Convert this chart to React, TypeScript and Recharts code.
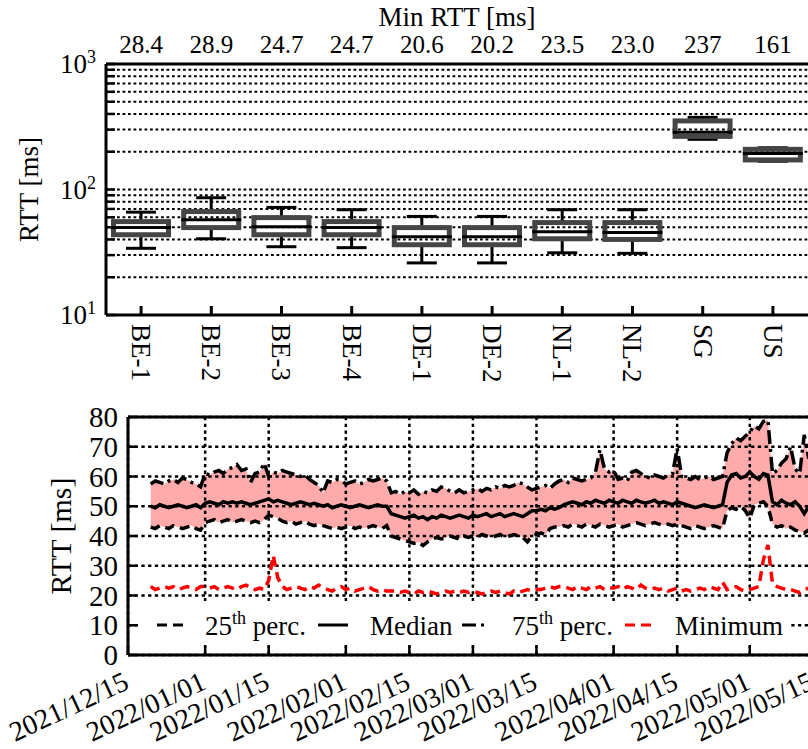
import React from "react";
import {
  ComposedChart,
  Bar,
  Scatter,
  Area,
  Line,
  XAxis,
  YAxis,
  CartesianGrid,
  ReferenceLine,
  Label,
} from "recharts";

const FONT = "'Liberation Serif', 'Times New Roman', serif";

// ---- top panel: RTT distribution per vantage point (log scale) ----
const sites = ["BE-1", "BE-2", "BE-3", "BE-4", "DE-1", "DE-2", "NL-1", "NL-2", "SG", "US"];
const minRttLabels = ["28.4", "28.9", "24.7", "24.7", "20.6", "20.2", "23.5", "23.0", "237", "161"];
const whiskerLow = [34, 40.5, 35, 34.4, 26, 26, 31.3, 31, 251, 168];
const quartile1 = [43.6, 49.7, 43.6, 43.6, 36.3, 36.3, 40.5, 40, 265, 172];
const medians = [49.7, 57.5, 50.6, 49.7, 42, 42, 46, 45.5, 286, 194];
const quartile3 = [55.5, 66.7, 59.7, 55.5, 49.7, 49.7, 54.5, 54.5, 352, 209];
const whiskerHigh = [66, 86, 72, 69, 61, 61, 69, 69, 376, 215];
const logTicks = [10, 20, 30, 40, 50, 60, 70, 80, 90, 100, 200, 300, 400, 500, 600, 700, 800, 900, 1000];
const decadeTicks = [10, 100, 1000];
const decadeExponents = ["1", "2", "3"];

// ---- bottom panel: daily RTT percentiles, 2021/12/20 onwards ----
const seriesStart = "2021/12/20";
const axisStart = "2021/12/15";
const axisEnd = "2022/05/20";
const dateTicks = [
  "2021/12/15", "2022/01/01", "2022/01/15", "2022/02/01", "2022/02/15", "2022/03/01",
  "2022/03/15", "2022/04/01", "2022/04/15", "2022/05/01", "2022/05/15",
];
const rttTicks = [0, 10, 20, 30, 40, 50, 60, 70, 80];

const perc75 = [
  57.5, 58.5, 58, 57.5, 58.5, 59, 58, 59.5, 59, 58,
  57.5, 56.5, 61, 60.5, 61.5, 62, 61, 62.5, 63, 64,
  62, 62.5, 58, 61, 61.5, 64.5, 60, 61.5, 61, 62,
  61.5, 61, 60.5, 60, 60.5, 59, 58, 57, 54.5, 58.5,
  58, 59, 58.5, 57.5, 58, 58.5, 57.5, 58, 59, 58.5,
  59, 59.5, 58.5, 54.5, 55, 54, 55, 54.5, 55.5, 54,
  55, 54.5, 55.5, 55, 56.5, 56, 55, 54.5, 55.5, 54.5,
  55, 55.5, 56, 55, 56, 55.5, 56.5, 56, 57, 56.5,
  57, 58, 57.5, 56.5, 55.5, 56, 56.5, 57, 56, 57.5,
  58.5, 59, 58, 59.5, 59, 58.5, 59, 59.5, 61.5, 69,
  62.5, 61.5, 62, 59, 59.5, 58.5, 61.5, 62, 61, 60,
  59.5, 60.5, 60, 59.5, 60.5, 61, 69.5, 60, 59.5, 59,
  60, 59, 59.5, 60, 59, 59.5, 60, 68, 71, 73,
  72, 73.5, 75, 77, 76, 78.5, 79, 61, 62, 64.5,
  66, 70, 62.5, 61, 74, 66,
];

const median = [
  50, 49.5, 50.5, 50, 49.5, 50, 50.5, 50, 49.5, 50, 50.5, 49.5,
  51, 51.5, 51, 50.5, 51.5, 51, 51.5, 51, 51.5, 51, 50.5, 51, 51.5,
  52, 52.5, 51.5, 52,
  51.5, 51, 50.5, 51, 51.5, 51, 50.5, 51, 50.5,
  50, 50.5, 49.5, 50, 50.5, 50, 49.5, 50, 50.5, 50, 49.5, 50, 50.5, 50, 50,
  47.5,
  47, 46.5, 46, 46.5, 47, 46, 46.5, 45.5, 46.5, 46, 47, 46.5, 46, 46.5, 47, 46.5, 46,
  47, 46.5, 47, 47.5, 46.5, 47, 47.5, 46.5, 47, 47.5, 47, 46.5, 47.5,
  48.5, 48.5,
  49, 48.5, 49.5, 49, 49.5,
  50.5, 51, 51.5, 51, 50.5, 51.5, 51, 52, 51.5, 51, 52,
  51.5, 51, 52, 51.5, 51, 52, 51.5, 51, 51.5, 52,
  51, 51.5, 51, 50.5, 51.5, 51,
  50.5, 50, 49.5, 50, 50.5, 50, 49.5, 50, 50.5,
  58,
  60.5, 61, 59.5, 60, 61.5, 60, 59, 61, 60.5,
  51.5, 50.5, 52, 51, 50.5, 51.5, 50,
  47.5, 50,
];

const perc25 = [
  43, 42.5, 43.5, 43, 42.5, 43.5, 43, 42.5, 43, 43.5, 42.5, 42,
  44.5, 45, 45.5, 44.5, 45, 45.5, 44.5, 45, 45.5, 45, 44.5, 45, 44.5,
  45.5, 47, 46.5, 46,
  45, 44.5, 45, 44, 44.5, 45, 44, 43.5, 44,
  43.5, 43, 42.5, 43, 42.5, 43, 43.5, 42.5, 43, 42.5, 43, 43.5, 43, 42.5, 43.5,
  40,
  39.5, 39, 38.5, 38, 37.5, 38, 36.8, 38, 39, 39.5, 39, 39.5, 40, 39.5, 39, 40, 39.5,
  40, 39.5, 40.5, 40, 39.5, 40, 40.5, 39.5, 40, 40.5, 40, 39.5, 38,
  40, 40.5,
  41, 40.5, 42.5, 43, 43,
  43.5, 43, 44, 43.5, 43, 44, 43.5, 43, 44, 43.5, 43,
  43.5, 44, 43, 43.5, 44, 44.5, 44, 43.5, 44, 44.5,
  44, 43.5, 44, 43.5, 44, 43.5,
  43, 42.5, 43.5, 43, 42.5, 43, 43.5, 43, 42.5,
  48.5,
  49.5, 49, 50, 48.5, 46, 50.5, 51, 51.5, 50,
  44, 43, 43.5, 42.5, 43, 42, 41.5,
  41, 42,
];

const minimum = [
  23, 22, 22.5, 23, 22.5, 23, 22, 22.5, 23, 22.5, 22, 23,
  23, 22.5, 23, 22, 22.5, 23, 22.5, 22, 23, 23.5, 22.5, 22, 22.5,
  22, 25, 33.5, 26,
  23, 22, 22.5, 23, 22.5, 22, 23, 22.5, 23.5,
  22.5, 22, 21.5, 22.5, 23, 22, 22.5, 21.5, 22, 22.5, 23, 22, 21.5, 22, 21.5,
  21.5,
  21.5, 21, 21.5, 21, 20.5, 21.5, 21, 21.5, 21, 20.5, 21, 21.5, 21, 21.5, 21, 21.5, 21,
  21.5, 21, 20.5, 21, 21.5, 21, 21.5, 21, 20.5, 21.5, 21, 21.5, 22,
  21.5, 22,
  22, 22.5, 23, 22.5, 23,
  23, 22.5, 22, 23, 22.5, 22, 23, 22.5, 23, 22, 22.5,
  22.5, 23, 22, 23, 22.5, 22, 23.5, 22.5, 22, 22.5,
  22, 22.5, 21.5, 22, 22.5, 21.5,
  22, 21.5, 22, 22.5, 22, 23, 22.5, 22, 24.5,
  22,
  22.5, 23, 22, 21.5, 22, 22.5, 23, 32, 37,
  24, 23, 22.5, 22, 22, 21.5, 21,
  22, 22.5,
];

const DAY = 86400000;
const parseDate = (s: string) => {
  const [y, m, d] = s.split("/").map(Number);
  return Date.UTC(y, m - 1, d);
};

const boxData = sites.map((site, i) => ({
  site,
  lo: whiskerLow[i],
  q1: quartile1[i],
  med: medians[i],
  q3: quartile3[i],
  hi: whiskerHigh[i],
}));

const t0 = parseDate(seriesStart);
const timeData = perc75.map((_, i) => ({
  t: t0 + i * DAY,
  p25: perc25[i],
  med: median[i],
  p75: perc75[i],
  min: minimum[i],
  band: [perc25[i], perc75[i]],
}));
const tickTimes = dateTicks.map(parseDate);

const txt = { fontFamily: FONT, fill: "#000" };

// ---- shapes / ticks ----
function UpperWhisker(p: any) {
  const { x, y, width, height } = p;
  const cx = x + width / 2;
  return (
    <g>
      <line x1={cx} x2={cx} y1={y} y2={y + height} stroke="#000" strokeWidth={3} />
      <line x1={x} x2={x + width} y1={y} y2={y} stroke="#000" strokeWidth={3} />
    </g>
  );
}

function LowerWhisker(p: any) {
  const { x, y, width, height } = p;
  const cx = x + width / 2;
  return (
    <g>
      <line x1={cx} x2={cx} y1={y} y2={y + height} stroke="#000" strokeWidth={3} />
      <line x1={x} x2={x + width} y1={y + height} y2={y + height} stroke="#000" strokeWidth={3} />
    </g>
  );
}

function BoxShape(p: any) {
  const { x, y, width, height } = p;
  return (
    <rect x={x + 2.5} y={y} width={width - 5} height={height} fill="none" stroke="#454545" strokeWidth={5} />
  );
}

function MedianShape(p: any) {
  const { cx, cy } = p;
  return <line x1={cx - 30} x2={cx + 30} y1={cy} y2={cy} stroke="#000" strokeWidth={3} />;
}

function SiteTick({ x, y, payload }: any) {
  const ty = y + 9;
  return (
    <g>
      <line x1={x} x2={x} y1={y} y2={y - 9} stroke="#000" strokeWidth={3} />
      <text x={x} y={ty} dy="0.34em" transform={`rotate(90 ${x} ${ty})`} textAnchor="start" fontSize={27} {...txt}>
        {payload.value}
      </text>
    </g>
  );
}

function MinRttTick({ x, y, index }: any) {
  return (
    <text x={x} y={y - 11} textAnchor="middle" fontSize={25} {...txt}>
      {minRttLabels[index]}
    </text>
  );
}

function LogTick({ x, y, payload }: any) {
  const k = decadeTicks.indexOf(payload.value);
  return (
    <g>
      <line x1={x} x2={x + 9} y1={y} y2={y} stroke="#000" strokeWidth={2.5} />
      {k >= 0 && (
        <text x={x - 10} y={y + 9} textAnchor="end" fontSize={27} {...txt}>
          10
          <tspan dy={-10} fontSize={18}>
            {decadeExponents[k]}
          </tspan>
        </text>
      )}
    </g>
  );
}

function RttTick({ x, y, payload }: any) {
  return (
    <g>
      <line x1={x} x2={x + 9} y1={y} y2={y} stroke="#000" strokeWidth={2.5} />
      <text x={x - 10} y={y + 10} textAnchor="end" fontSize={29} {...txt}>
        {payload.value}
      </text>
    </g>
  );
}

function DateTick({ x, y, index }: any) {
  const ax = x + 2.5;
  const ay = y + 33;
  return (
    <g>
      <line x1={x} x2={x} y1={y} y2={y - 9} stroke="#000" strokeWidth={2.5} />
      <text x={ax} y={ay} transform={`rotate(-25 ${ax} ${ay})`} textAnchor="end" fontSize={28} {...txt}>
        {dateTicks[index]}
      </text>
    </g>
  );
}

function yTitle(offsetX: number, size: number) {
  return (props: any) => {
    const vb = props.viewBox || { x: 0, y: 0, width: 0, height: 0 };
    const cx = vb.x + offsetX;
    const cy = vb.y + vb.height / 2;
    return (
      <text x={cx} y={cy} dy="0.35em" transform={`rotate(-90 ${cx} ${cy})`} textAnchor="middle" fontSize={size} {...txt}>
        RTT [ms]
      </text>
    );
  };
}

function TopTitle(props: any) {
  const vb = props.viewBox || { x: 0, y: 0, width: 0, height: 0 };
  return (
    <text x={vb.x + vb.width / 2} y={vb.y + 26} textAnchor="middle" fontSize={27} {...txt}>
      Min RTT [ms]
    </text>
  );
}

function LegendBox() {
  const line = { strokeWidth: 3 };
  const t = { fontSize: 27, ...txt };
  return (
    <svg
      width={650}
      height={44}
      style={{ position: "absolute", left: 140, top: 601, overflow: "visible" }}
    >
      <rect x={0} y={0} width={650} height={44} fill="#fff" />
      <line x1={17} x2={43} y1={24} y2={24} stroke="#000" strokeDasharray="10 6" {...line} />
      <text x={65} y={34} {...t}>
        25<tspan dy={-11} fontSize={18}>th</tspan>
        <tspan dy={11}> perc.</tspan>
      </text>
      <line x1={178} x2={208} y1={24} y2={24} stroke="#000" {...line} />
      <text x={230} y={34} {...t}>Median</text>
      <line x1={322} x2={348} y1={24} y2={24} stroke="#000" strokeDasharray="14 5 3 5" {...line} />
      <text x={372} y={34} {...t}>
        75<tspan dy={-11} fontSize={18}>th</tspan>
        <tspan dy={11}> perc.</tspan>
      </text>
      <line x1={485} x2={512} y1={24} y2={24} stroke="#ff0000" strokeDasharray="10 6" {...line} />
      <text x={535} y={34} {...t}>Minimum</text>
    </svg>
  );
}

const frame = { stroke: "#000", strokeWidth: 3 };

export default function App() {
  return (
    <div
      style={{
        position: "fixed",
        left: 0,
        top: 0,
        width: 808,
        height: 749,
        overflow: "hidden",
        background: "#fff",
      }}
    >
      <div style={{ position: "absolute", left: 0, top: 0 }}>
        <ComposedChart width={808} height={400} data={boxData} margin={{ top: 0, right: 0, bottom: 0, left: 0 }}>
          <CartesianGrid vertical={false} stroke="#000" strokeWidth={2} strokeDasharray="2.8 2.7" />
          <XAxis
            dataKey="site"
            height={85}
            interval={0}
            axisLine={frame}
            tickLine={false}
            tickSize={0}
            tickMargin={0}
            tick={<SiteTick />}
          />
          <XAxis
            xAxisId="top"
            dataKey="site"
            orientation="top"
            height={64}
            interval={0}
            axisLine={frame}
            tickLine={false}
            tickSize={0}
            tickMargin={0}
            tick={<MinRttTick />}
          >
            <Label content={TopTitle} />
          </XAxis>
          <XAxis xAxisId="wu" dataKey="site" hide />
          <XAxis xAxisId="wl" dataKey="site" hide />
          <YAxis
            scale="log"
            domain={[10, 1000]}
            allowDataOverflow
            ticks={logTicks}
            interval={0}
            width={106}
            axisLine={frame}
            tickLine={false}
            tickSize={0}
            tickMargin={0}
            tick={<LogTick />}
          >
            <Label content={yTitle(29, 27)} />
          </YAxis>
          <Bar
            xAxisId="wu"
            dataKey={(d: any) => [d.q3, d.hi]}
            barSize={30}
            shape={(p: any) => <UpperWhisker {...p} />}
            isAnimationActive={false}
          />
          <Bar
            xAxisId="wl"
            dataKey={(d: any) => [d.lo, d.q1]}
            barSize={30}
            shape={(p: any) => <LowerWhisker {...p} />}
            isAnimationActive={false}
          />
          <Bar
            dataKey={(d: any) => [d.q1, d.q3]}
            barSize={60}
            shape={(p: any) => <BoxShape {...p} />}
            isAnimationActive={false}
          />
          <Scatter dataKey="med" shape={(p: any) => <MedianShape {...p} />} isAnimationActive={false} />
        </ComposedChart>
      </div>

      <div style={{ position: "absolute", left: 0, top: 400 }}>
        <ComposedChart width={836} height={349} data={timeData} margin={{ top: 17, right: 0, bottom: 0, left: 0 }}>
          <Area
            dataKey="band"
            type="linear"
            fill="#ffabab"
            fillOpacity={1}
            stroke="none"
            isAnimationActive={false}
          />
          <CartesianGrid stroke="#000" strokeWidth={2.5} strokeDasharray="3.3 3.4" zIndex={150} />
          <XAxis
            dataKey="t"
            type="number"
            domain={[parseDate(axisStart), parseDate(axisEnd)]}
            allowDataOverflow
            ticks={tickTimes}
            interval={0}
            height={94}
            axisLine={frame}
            tickLine={false}
            tickSize={0}
            tickMargin={0}
            tick={<DateTick />}
          />
          <YAxis
            domain={[0, 80]}
            ticks={rttTicks}
            interval={0}
            width={128}
            axisLine={frame}
            tickLine={false}
            tickSize={0}
            tickMargin={0}
            tick={<RttTick />}
          >
            <Label content={yTitle(60, 30)} />
          </YAxis>
          <ReferenceLine y={80} stroke="#000" strokeWidth={3} />
          <Line dataKey="p25" type="linear" stroke="#000" strokeWidth={3.5} strokeDasharray="10 6" dot={false} isAnimationActive={false} />
          <Line dataKey="med" type="linear" stroke="#000" strokeWidth={3.5} dot={false} isAnimationActive={false} />
          <Line dataKey="p75" type="linear" stroke="#000" strokeWidth={3.5} strokeDasharray="14 5 3 5" dot={false} isAnimationActive={false} />
          <Line dataKey="min" type="linear" stroke="#ff0000" strokeWidth={3.5} strokeDasharray="10 6" dot={false} isAnimationActive={false} />
        </ComposedChart>
      </div>

      <LegendBox />
    </div>
  );
}
